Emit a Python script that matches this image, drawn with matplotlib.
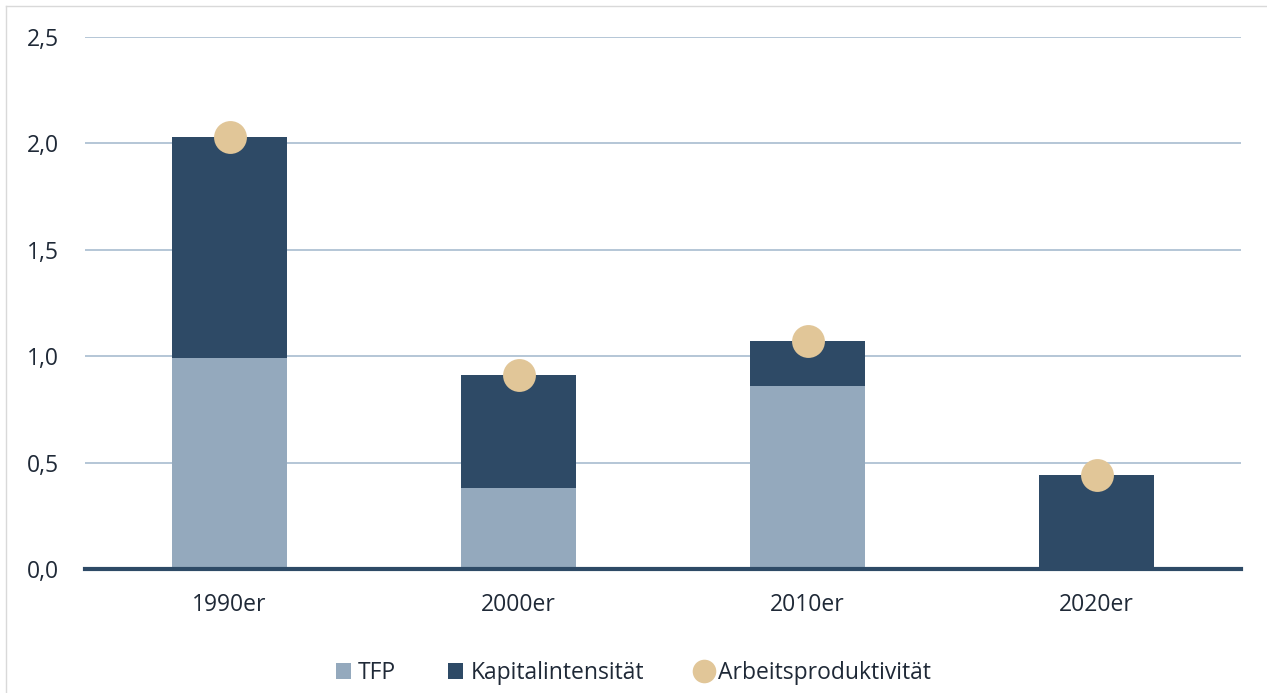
import matplotlib
matplotlib.use("Agg")
import matplotlib.pyplot as plt
from matplotlib.lines import Line2D
from matplotlib.patches import Patch

plt.rcParams['font.family'] = ['Open Sans', 'DejaVu Sans']

decades = ["1990er", "2000er", "2010er", "2020er"]
tfp = [0.99, 0.38, 0.86, 0.01]
kapital = [1.04, 0.53, 0.21, 0.43]
arbeitsproduktivitaet = [2.03, 0.91, 1.07, 0.44]
yticks = [0.0, 0.5, 1.0, 1.5, 2.0, 2.5]
ytick_labels = ["0,0", "0,5", "1,0", "1,5", "2,0", "2,5"]

c_tfp = "#94A9BD"
c_kap = "#2E4A66"
c_dot = "#E1C698"
c_grid = "#AFC2D3"
c_text = "#1F2937"

fig = plt.figure(figsize=(12.67, 6.93), dpi=100)
ax = fig.add_axes([85 / 1267, 1 - 569 / 693, 1156 / 1267, 532 / 693])

x = range(len(decades))
ax.bar(x, tfp, width=0.4, color=c_tfp, zorder=2)
ax.bar(x, kapital, width=0.4, bottom=tfp, color=c_kap, zorder=2)
ax.scatter(x, arbeitsproduktivitaet, s=560, color=c_dot, zorder=4, linewidths=0)

ax.set_xlim(-0.5, 3.5)
ax.set_ylim(0, 2.5)
ax.set_yticks(yticks)
ax.set_yticklabels(ytick_labels)
ax.set_xticks(list(x))
ax.set_xticklabels(decades)
ax.yaxis.grid(True, color=c_grid, linewidth=1.3, zorder=0)
ax.set_axisbelow(True)
for s in ["top", "right", "left"]:
    ax.spines[s].set_visible(False)
ax.spines["bottom"].set_color(c_kap)
ax.spines["bottom"].set_linewidth(3)
ax.spines["bottom"].set_zorder(5)
ax.tick_params(axis="both", length=0, labelsize=16.5, colors=c_text)
ax.tick_params(axis="y", pad=19)
ax.tick_params(axis="x", pad=17)

handles = [
    Patch(facecolor=c_tfp, label="TFP"),
    Patch(facecolor=c_kap, label="Kapitalintensität"),
    Line2D([], [], marker="o", linestyle="none", markersize=17, markerfacecolor=c_dot,
           markeredgewidth=0, label="Arbeitsproduktivität"),
]
fig.legend(handles=handles, loc="center", bbox_to_anchor=(0.5, 1 - 673 / 693), ncol=3,
           frameon=False, fontsize=16.5, handlelength=0.65, handleheight=0.65,
           handletextpad=0.3, columnspacing=2.3, labelcolor=c_text)

# light frame around the figure
fig.add_artist(Line2D([6 / 1267, 6 / 1267], [0, 1 - 6 / 693], transform=fig.transFigure,
                      color="#D9D9D9", linewidth=1))
fig.add_artist(Line2D([6 / 1267, 1], [1 - 6 / 693, 1 - 6 / 693], transform=fig.transFigure,
                      color="#D9D9D9", linewidth=1))

fig.savefig("out.png", dpi=100)
